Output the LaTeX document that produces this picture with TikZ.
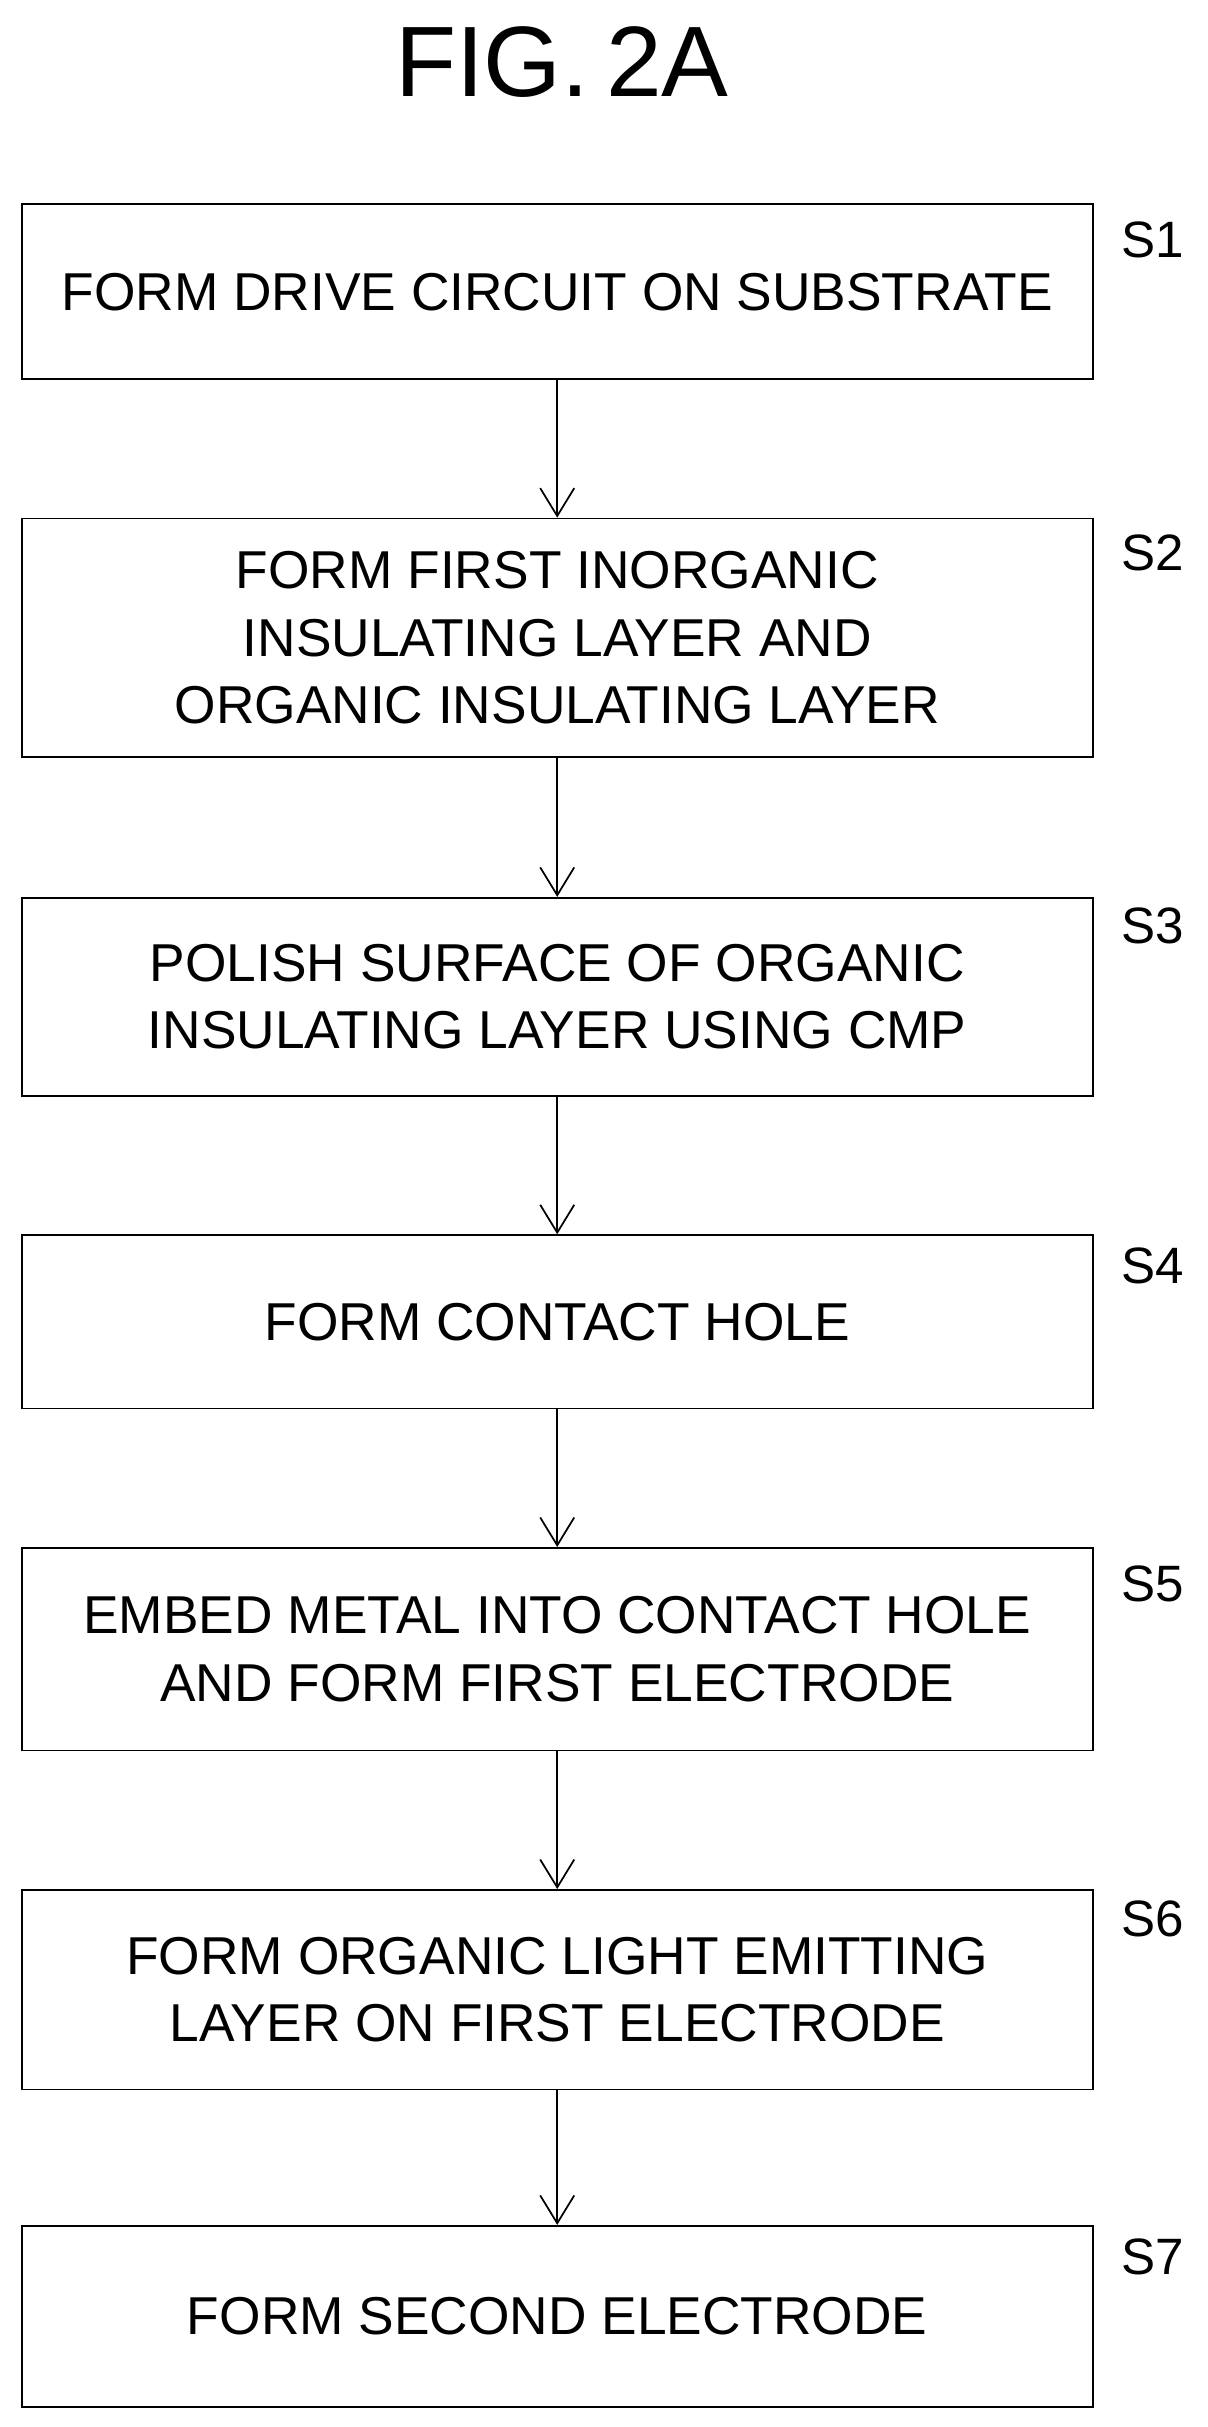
\documentclass[tikz,border=0pt]{standalone}
\usepackage{fontspec}
\setmainfont{Liberation Sans}
\usetikzlibrary{arrows.meta}
\begin{document}
\begin{tikzpicture}[x=0.05cm,y=-0.05cm,
  procbox/.style={draw,line width=1.6pt,minimum width=34.6cm,align=center,
    font=\fontsize{49}{62}\selectfont},
  lbl/.style={font=\fontsize{47}{52}\selectfont},
  flow/.style={line width=1.6pt,-{Straight Barb[length=0.9cm,width=1.1cm,line width=1.6pt]}}]
\useasboundingbox (0,0) rectangle (780,1568);
\node[font=\fontsize{92}{100}\selectfont] (title) at (363,40) {FIG.\,2A};
\node[procbox,minimum height=5.65cm] (s1) at (360,188.5) {FORM DRIVE CIRCUIT ON SUBSTRATE};
\node[procbox,minimum height=7.7cm] (s2) at (360,412) {FORM FIRST INORGANIC\\INSULATING LAYER AND\\ORGANIC INSULATING LAYER};
\node[procbox,minimum height=6.4cm] (s3) at (360,644) {POLISH SURFACE OF ORGANIC\\INSULATING LAYER USING CMP};
\node[procbox,minimum height=5.6cm] (s4) at (360,854) {FORM CONTACT HOLE};
\node[procbox,minimum height=6.55cm] (s5) at (360,1065.5) {EMBED METAL INTO CONTACT HOLE\\AND FORM FIRST ELECTRODE};
\node[procbox,minimum height=6.45cm] (s6) at (360,1285.5) {FORM ORGANIC LIGHT EMITTING\\LAYER ON FIRST ELECTRODE};
\node[procbox,minimum height=5.85cm] (s7) at (360,1496.5) {FORM SECOND ELECTRODE};
% step numbers
\foreach \n/\y in {1/155,2/357,3/598,4/818,5/1023,6/1240,7/1458}
  \node[lbl] (l\n) at (745,\y) {S\n};
\foreach \a/\b in {s1/s2,s2/s3,s3/s4,s4/s5,s5/s6,s6/s7}
  \draw[flow] (\a) -- (\b);
\end{tikzpicture}
\end{document}
